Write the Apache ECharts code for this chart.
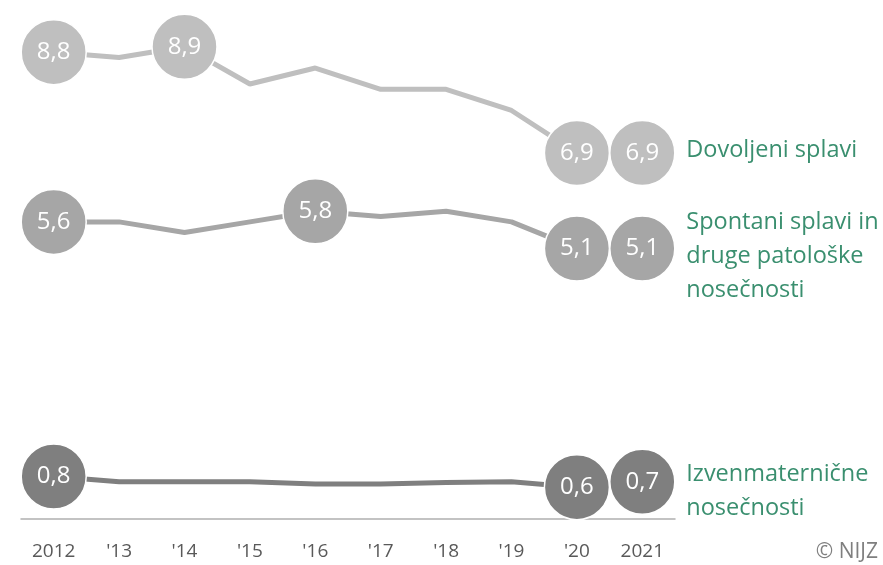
<!DOCTYPE html>
<html>
<head>
<meta charset="utf-8">
<script src="https://cdn.jsdelivr.net/npm/echarts@6/dist/echarts.min.js"></script>
<style>
html,body{margin:0;padding:0;background:#fff;}
#chart{width:883px;height:565px;}
</style>
</head>
<body>
<div id="chart"></div>
<script>
const categories = ['2012', "'13", "'14", "'15", "'16", "'17", "'18", "'19", "'20", '2021'];

const dovoljeni = [8.8, 8.7, 8.9, 8.2, 8.5, 8.1, 8.1, 7.7, 6.9, 6.9];
const spontani = [5.6, 5.6, 5.4, 5.6, 5.8, 5.7, 5.8, 5.6, 5.1, 5.1];
const izven = [0.8, 0.7, 0.7, 0.7, 0.66, 0.66, 0.69, 0.7, 0.6, 0.7];

const dovoljeniLabeled = [0, 2, 8, 9];
const spontaniLabeled = [0, 4, 8, 9];
const izvenLabeled = [0, 8, 9];

const seriesNames = ['Dovoljeni splavi', 'Spontani splavi in\ndruge patološke\nnosečnosti', 'Izvenmaternične\nnosečnosti'];
const seriesColors = ['#bfbfbf', '#a6a6a6', '#7f7f7f'];
const endOffsets = [-3, 8, 9];

const FONT = '"Open Sans", "Noto Sans", sans-serif';

function buildData(values, labeled) {
  return values.map((v, i) => labeled.includes(i)
    ? { value: v, symbolSize: 65, label: { show: true } }
    : { value: v, symbolSize: 0 });
}

function makeSeries(name, values, labeled, color, offY) {
  return {
    type: 'line',
    name: name,
    data: buildData(values, labeled),
    symbol: 'circle',
    showAllSymbol: true,
    lineStyle: { color: color, width: 5 },
    itemStyle: { color: color, borderColor: '#ffffff', borderWidth: 1.5 },
    label: {
      show: false,
      position: 'inside',
      color: '#ffffff',
      fontFamily: FONT,
      fontSize: 24,
      formatter: p => p.value.toFixed(1).replace('.', ',')
    },
    endLabel: {
      show: true,
      distance: 44,
      offset: [0, offY],
      formatter: () => name,
      color: '#3a8f6f',
      fontFamily: FONT,
      fontSize: 23.5,
      lineHeight: 34,
      align: 'left'
    },
    emphasis: { disabled: true },
    z: 2
  };
}

const chart = echarts.init(document.getElementById('chart'), null, { renderer: 'canvas' });
chart.setOption({
  animation: false,
  backgroundColor: '#ffffff',
  grid: { left: 21, right: 208, top: 15, bottom: 46 },
  xAxis: {
    type: 'category',
    data: categories,
    boundaryGap: true,
    axisLine: { lineStyle: { color: '#b0b0b0', width: 1.5 } },
    axisTick: { show: false },
    axisLabel: { color: '#595959', fontFamily: FONT, fontSize: 19, margin: 23, interval: 0 }
  },
  yAxis: {
    type: 'value',
    min: 0,
    max: 9.5,
    show: false,
    splitLine: { show: false }
  },
  series: [
    makeSeries(seriesNames[0], dovoljeni, dovoljeniLabeled, seriesColors[0], endOffsets[0]),
    makeSeries(seriesNames[1], spontani, spontaniLabeled, seriesColors[1], endOffsets[1]),
    makeSeries(seriesNames[2], izven, izvenLabeled, seriesColors[2], endOffsets[2])
  ],
  graphic: [{
    type: 'text',
    right: 5,
    bottom: 2,
    style: { text: '© NIJZ', fill: '#7f7f7f', font: '21px "Open Sans", sans-serif' }
  }]
});
</script>
</body>
</html>
